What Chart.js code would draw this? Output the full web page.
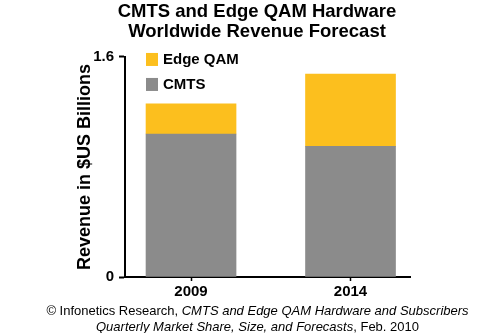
<!DOCTYPE html>
<html>
<head>
<meta charset="utf-8">
<script src="https://cdn.jsdelivr.net/npm/chart.js@4.4.0/dist/chart.umd.min.js"></script>
<style>
    html, body { margin: 0; padding: 0; background: #fff; }
    #wrap { position: relative; width: 500px; height: 333px; }
    #source {
        position: absolute; left: 0; top: 303px; width: 515px;
        text-align: center; font: 13px "Liberation Sans", Arial, sans-serif;
        line-height: 15.5px; color: #000;
    }
</style>
</head>
<body>
<div id="wrap">
    <canvas id="chart" width="500" height="333"></canvas>
    <div id="source">&copy; Infonetics Research, <i>CMTS and Edge QAM Hardware and Subscribers</i><br><i>Quarterly Market Share, Size, and Forecasts</i>, Feb. 2010</div>
</div>
<script>
    "use strict";

    const years = ['2009', '2014'];
    const cmts = [1.04, 0.95];
    const edgeQam = [0.22, 0.525];
    const yTicks = [0, 1.6];

    const font = '"Liberation Sans", Arial, sans-serif';
    const yellow = '#fcbf1e';
    const grey = '#8b8b8b';

    // legend drawn inside the plot, top-left, stacked top-down
    const insideLegend = {
        id: 'insideLegend',
        afterDraw(chart) {
            const ctx = chart.ctx;
            const area = chart.chartArea;
            const sets = chart.data.datasets.slice().reverse();
            ctx.save();
            ctx.font = 'bold 15px ' + font;
            ctx.textBaseline = 'middle';
            sets.forEach((ds, i) => {
                const y = area.top - 4 + i * 25;
                ctx.fillStyle = ds.backgroundColor;
                ctx.fillRect(area.left + 21, y, 12, 13);
                ctx.fillStyle = '#000';
                ctx.fillText(ds.label, area.left + 38, y + 7);
            });
            ctx.restore();
        }
    };

    new Chart(document.getElementById('chart'), {
        type: 'bar',
        data: {
            datasets: [{
                label: 'CMTS',
                data: cmts.map((v, i) => ({ x: i, y: v })),
                backgroundColor: grey,
                borderWidth: 0,
                barThickness: 90
            }, {
                label: 'Edge QAM',
                data: edgeQam.map((v, i) => ({ x: i, y: v })),
                backgroundColor: yellow,
                borderWidth: 0,
                barThickness: 90
            }]
        },
        options: {
            responsive: false,
            animation: false,
            layout: { padding: { left: 14, right: 0, top: 0, bottom: 36 } },
            plugins: {
                legend: { display: false },
                tooltip: { enabled: false },
                title: {
                    display: true,
                    text: ['CMTS and Edge QAM Hardware', 'Worldwide Revenue Forecast'],
                    color: '#000',
                    font: { family: font, size: 18.5, weight: 'bold', lineHeight: 1.08 },
                    padding: { top: 2, bottom: 15 }
                }
            },
            scales: {
                x: {
                    type: 'linear',
                    stacked: true,
                    offset: false,
                    min: -0.414,
                    max: 1.373,
                    afterBuildTicks: (scale) => { scale.ticks = years.map((_, i) => ({ value: i })); },
                    afterFit: (scale) => { scale.height = 20; },
                    grid: { offset: false, drawOnChartArea: false, tickLength: 4, tickColor: '#000', tickWidth: 1.5 },
                    border: { display: true, color: '#000', width: 2 },
                    ticks: {
                        padding: 2,
                        color: '#000',
                        font: { family: font, size: 15, weight: 'bold' },
                        callback: (v) => years[v]
                    }
                },
                y: {
                    stacked: true,
                    min: 0,
                    max: 1.6,
                    afterBuildTicks: (scale) => { scale.ticks = yTicks.map(v => ({ value: v })); },
                    afterFit: (scale) => { scale.width = 111; },
                    grid: { drawOnChartArea: false, tickLength: 6, tickColor: '#000', tickWidth: 2 },
                    border: { display: true, color: '#000', width: 2 },
                    ticks: {
                        padding: 5,
                        color: '#000',
                        font: { family: font, size: 15, weight: 'bold' }
                    },
                    title: {
                        display: true,
                        text: 'Revenue in $US Billions',
                        color: '#000',
                        font: { family: font, size: 18, weight: 'bold' },
                        padding: { top: 60, bottom: 0 }
                    }
                },
                // empty right-hand gutter so the title stays centred on the page
                gutter: {
                    type: 'linear',
                    position: 'right',
                    afterFit: (scale) => { scale.width = 90; },
                    grid: { display: false },
                    border: { display: false },
                    ticks: { display: false }
                }
            }
        },
        plugins: [insideLegend]
    });
</script>
</body>
</html>
